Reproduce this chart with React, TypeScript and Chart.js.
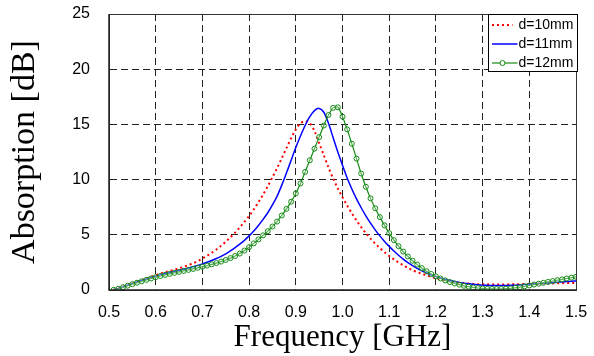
import React, { useEffect, useRef } from "react";
import { Chart, registerables } from "chart.js";

Chart.register(...registerables);

const freq = [
  0.51, 0.52, 0.53, 0.54, 0.55, 0.56, 0.57, 0.58, 0.59, 0.6,
  0.61, 0.62, 0.63, 0.64, 0.65, 0.66, 0.67, 0.68, 0.69, 0.7,
  0.71, 0.72, 0.73, 0.74, 0.75, 0.76, 0.77, 0.78, 0.79, 0.8,
  0.81, 0.82, 0.83, 0.84, 0.85, 0.86, 0.87, 0.88, 0.89, 0.9,
  0.91, 0.92, 0.93, 0.94, 0.95, 0.96, 0.97, 0.98, 0.99, 1.0,
  1.01, 1.02, 1.03, 1.04, 1.05, 1.06, 1.07, 1.08, 1.09, 1.1,
  1.11, 1.12, 1.13, 1.14, 1.15, 1.16, 1.17, 1.18, 1.19, 1.2,
  1.21, 1.22, 1.23, 1.24, 1.25, 1.26, 1.27, 1.28, 1.29, 1.3,
  1.31, 1.32, 1.33, 1.34, 1.35, 1.36, 1.37, 1.38, 1.39, 1.4,
  1.41, 1.42, 1.43, 1.44, 1.45, 1.46, 1.47, 1.48, 1.49, 1.5,
];

const d10 = [
  0.05, 0.15, 0.3, 0.45, 0.6, 0.75, 0.9, 1.05, 1.2, 1.35,
  1.48, 1.6, 1.72, 1.84, 1.96, 2.1, 2.25, 2.42, 2.62, 2.85,
  3.1, 3.37, 3.67, 4.0, 4.37, 4.77, 5.2, 5.67, 6.17, 6.7,
  7.3, 7.95, 8.65, 9.4, 10.2, 11.05, 11.95, 12.85, 13.75, 14.55,
  15.1, 15.3, 15.1, 14.4, 13.3, 12.2, 11.1, 10.1, 9.2, 8.4,
  7.65, 6.95, 6.3, 5.7, 5.15, 4.65, 4.2, 3.8, 3.42, 3.08,
  2.77, 2.49, 2.24, 2.01, 1.8, 1.62, 1.46, 1.32, 1.19, 1.07,
  0.96, 0.87, 0.79, 0.72, 0.66, 0.62, 0.58, 0.55, 0.53, 0.52,
  0.51, 0.5, 0.5, 0.5, 0.5, 0.51, 0.52, 0.53, 0.54, 0.55,
  0.56, 0.57, 0.58, 0.59, 0.6, 0.61, 0.62, 0.63, 0.64, 0.65,
];

const d11 = [
  0.03, 0.13, 0.28, 0.43, 0.58, 0.72, 0.86, 0.99, 1.12, 1.25,
  1.37, 1.48, 1.58, 1.68, 1.78, 1.88, 1.99, 2.1, 2.22, 2.36,
  2.51, 2.67, 2.85, 3.05, 3.28, 3.54, 3.83, 4.15, 4.5, 4.9,
  5.35, 5.85, 6.4, 7.0, 7.7, 8.5, 9.5, 10.6, 11.75, 12.9,
  13.95, 14.9, 15.7, 16.25, 16.45, 16.1, 15.1, 13.8, 12.5, 11.3,
  10.15, 9.15, 8.25, 7.45, 6.72, 6.05, 5.45, 4.9, 4.4, 3.95,
  3.53, 3.15, 2.8, 2.49, 2.21, 1.96, 1.74, 1.54, 1.37, 1.22,
  1.08, 0.96, 0.86, 0.77, 0.69, 0.62, 0.56, 0.51, 0.47, 0.44,
  0.42, 0.41, 0.4, 0.4, 0.41, 0.42, 0.44, 0.46, 0.49, 0.52,
  0.55, 0.58, 0.61, 0.64, 0.67, 0.7, 0.73, 0.76, 0.79, 0.82,
];

const d12 = [
  0.02, 0.11, 0.25, 0.39, 0.53, 0.66, 0.79, 0.92, 1.04, 1.16,
  1.27, 1.37, 1.46, 1.55, 1.64, 1.73, 1.82, 1.91, 2.01, 2.11,
  2.21, 2.32, 2.44, 2.57, 2.72, 2.89, 3.08, 3.3, 3.57, 3.88,
  4.22, 4.58, 4.95, 5.33, 5.75, 6.2, 6.75, 7.35, 8.0, 8.75,
  9.65, 10.7, 11.75, 12.8, 13.85, 14.9, 15.85, 16.5, 16.55, 15.7,
  14.55, 13.25, 11.9, 10.55, 9.35, 8.3, 7.4, 6.6, 5.85, 5.15,
  4.52, 3.97, 3.48, 3.04, 2.65, 2.3, 1.98, 1.7, 1.45, 1.23,
  1.04, 0.87, 0.72, 0.59, 0.48, 0.38, 0.3, 0.23, 0.18, 0.14,
  0.11, 0.1, 0.09, 0.1, 0.12, 0.15, 0.2, 0.26, 0.33, 0.41,
  0.49, 0.57, 0.65, 0.73, 0.81, 0.89, 0.96, 1.04, 1.12, 1.2,
];

const seriesLabels = ["d=10mm", "d=11mm", "d=12mm"];
const xTitle = "Frequency [GHz]";
const yTitle = "Absorption [dB]";

const RED = "#ff0000";
const BLUE = "#0000ff";
const GREEN = "#138a13";

export default function App() {
  const ref = useRef<HTMLCanvasElement>(null);

  useEffect(() => {
    document.body.style.margin = "0";
    if (!ref.current) return;

    const toPts = (vals: number[]) => freq.map((f, i) => ({ x: f, y: vals[i] }));

    const framePlugin = {
      id: "frame",
      afterDatasetsDraw(chart: any) {
        const { ctx, chartArea: a } = chart;
        ctx.save();
        ctx.setLineDash([]);
        ctx.strokeStyle = "#333";
        ctx.lineWidth = 1;
        ctx.strokeRect(a.left + 0.5, a.top + 0.5, a.right - a.left, a.bottom - a.top);
        ctx.lineWidth = 1.5;
        ctx.strokeStyle = "#222";
        ctx.beginPath();
        ctx.moveTo(a.left, a.top);
        ctx.lineTo(a.left, a.bottom);
        ctx.lineTo(a.right, a.bottom);
        ctx.stroke();
        ctx.restore();
      },
    };

    const legendPlugin = {
      id: "boxLegend",
      afterDraw(chart: any) {
        const { ctx, chartArea: a } = chart;
        const w = 89;
        const h = 57;
        const left = a.right - w + 1.5;
        const top = a.top + 0.5;
        ctx.save();
        ctx.fillStyle = "#fff";
        ctx.fillRect(left, top, w, h);
        ctx.strokeStyle = "#000";
        ctx.lineWidth = 1;
        ctx.setLineDash([]);
        ctx.strokeRect(left, top, w, h);
        const rows = [10.5, 29.5, 48.5];
        chart.data.datasets.forEach((ds: any, i: number) => {
          const y = top + rows[i];
          ctx.save();
          ctx.strokeStyle = ds.borderColor;
          ctx.lineWidth = ds.borderWidth;
          ctx.setLineDash(ds.borderDash || []);
          ctx.beginPath();
          ctx.moveTo(left + 3.5, y);
          ctx.lineTo(left + (i === 0 ? 24 : 29), y);
          ctx.stroke();
          if (ds.pointRadius > 0) {
            ctx.setLineDash([]);
            ctx.lineWidth = 1;
            ctx.fillStyle = "#fff";
            ctx.beginPath();
            ctx.arc(left + 14, y, 2.5, 0, Math.PI * 2);
            ctx.fill();
            ctx.stroke();
          }
          ctx.restore();
          ctx.fillStyle = "#000";
          ctx.font = "14px 'Liberation Sans', Arial, sans-serif";
          ctx.textBaseline = "middle";
          ctx.textAlign = "left";
          ctx.fillText(ds.label, left + 30, y + 0.5);
        });
        ctx.restore();
      },
    };

    const chart = new Chart(ref.current, {
      type: "line",
      data: {
        datasets: [
          {
            label: seriesLabels[0],
            data: toPts(d10),
            borderColor: RED,
            borderWidth: 2,
            borderDash: [2, 3],
            pointRadius: 0,
            tension: 0.3,
            order: 3,
          },
          {
            label: seriesLabels[1],
            data: toPts(d11),
            borderColor: BLUE,
            borderWidth: 1.5,
            pointRadius: 0,
            tension: 0.3,
            order: 2,
          },
          {
            label: seriesLabels[2],
            data: toPts(d12),
            borderColor: GREEN,
            borderWidth: 1.2,
            pointRadius: 2.5,
            pointBorderWidth: 1,
            pointBorderColor: GREEN,
            pointBackgroundColor: "rgba(255,255,255,0.3)",
            tension: 0.3,
            order: 1,
          },
        ],
      },
      options: {
        responsive: false,
        animation: false,
        layout: { padding: { left: 0, top: 14, right: 18, bottom: 0 } },
        plugins: {
          legend: { display: false },
          tooltip: { enabled: false },
        },
        scales: {
          x: {
            type: "linear",
            min: 0.5,
            max: 1.5,
            afterFit: (s: any) => {
              s.height = 66;
              s.paddingLeft = 0;
              s.paddingRight = 0;
            },
            ticks: {
              stepSize: 0.1,
              padding: 13,
              color: "#000",
              font: { size: 16, family: "'Liberation Sans', Arial, sans-serif" },
              callback: (v: any) => Number(v).toFixed(1),
            },
            grid: { color: "#222", lineWidth: 1, drawTicks: false },
            border: { display: true, color: "#222", dash: [7, 4] },
            title: {
              display: true,
              text: xTitle,
              color: "#000",
              font: { size: 31, family: "'Liberation Serif', 'Times New Roman', serif" },
              padding: { top: 0, bottom: 0 },
            },
          },
          y: {
            min: 0,
            max: 25,
            afterFit: (s: any) => {
              s.width = 109;
              s.paddingTop = 0;
              s.paddingBottom = 0;
            },
            ticks: {
              stepSize: 5,
              padding: 19,
              color: "#000",
              font: { size: 16, family: "'Liberation Sans', Arial, sans-serif" },
            },
            grid: { color: "#222", lineWidth: 1, drawTicks: false },
            border: { display: true, color: "#222", dash: [7, 4] },
            title: {
              display: true,
              text: yTitle,
              color: "#000",
              font: { size: 34, family: "'Liberation Serif', 'Times New Roman', serif" },
              padding: { top: 5, bottom: 0 },
            },
          },
        },
      },
      plugins: [framePlugin, legendPlugin],
    });

    return () => chart.destroy();
  }, []);

  return <canvas ref={ref} width={594} height={356} style={{ display: "block" }} />;
}
